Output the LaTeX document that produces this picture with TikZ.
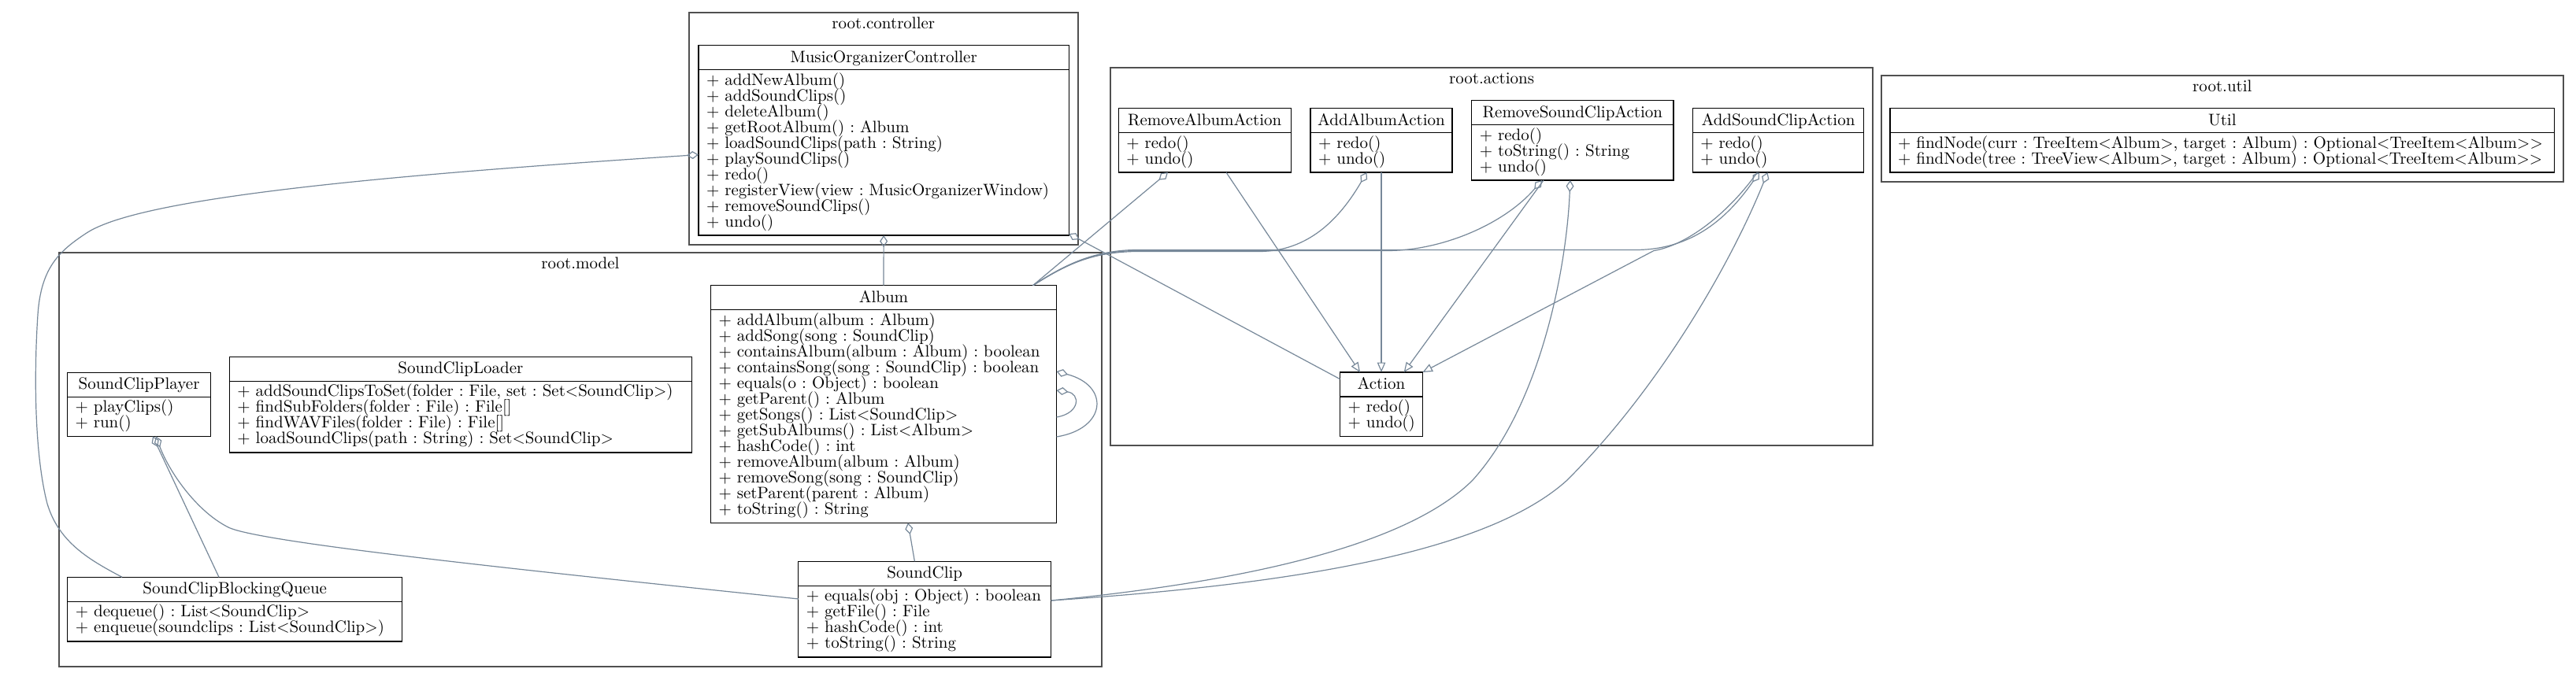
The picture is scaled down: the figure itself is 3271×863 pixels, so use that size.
\documentclass[tikz,border=0pt]{standalone}
\usetikzlibrary{arrows.meta}
\definecolor{edgec}{RGB}{119,136,153}
\definecolor{clusc}{RGB}{80,80,80}
\tikzset{
  txt/.style={font=\fontsize{10}{9.5}\selectfont\frenchspacing, scale=2.1, inner sep=0pt, outer sep=0pt},
  clsbox/.style={draw=black, line width=1.1pt, fill=white, inner sep=0pt, outer sep=0pt, anchor=north west},
  clusbox/.style={draw=clusc, line width=2pt, inner sep=0pt, outer sep=0pt, anchor=north west},
  conn/.style={draw=edgec, line width=1.2pt},
  aggs/.style={conn, {Diamond[open, length=15pt, width=10pt]}-},
  gen/.style={conn, -{Triangle[open, length=12.5pt, width=10.5pt]}},
}
\newcommand{\umlclass}[7]{%
  \node[clsbox, minimum width={(#4-#2)*1pt}, minimum height={(#5-#3)*1pt}] (#1) at (#2,#3) {};
  \draw[line width=1.1pt] ([yshift=-31pt]#1.north west) -- ([yshift=-31pt]#1.north east);
  \node[txt, anchor=base] (#1-title) at ([yshift=-21.5pt]#1.north) {#6};
  \foreach \m [count=\k] in {#7} {
    \node[txt, anchor=base west] (#1-m\k) at ([xshift=10pt, yshift={-(50.5+20*(\k-1))*1pt}]#1.north west) {\m};
  }
}
\newcommand{\umlcluster}[6]{%
  \node[clusbox, minimum width={(#4-#2)*1pt}, minimum height={(#5-#3)*1pt}] (#1) at (#2,#3) {};
  \node[txt, anchor=base] (#1-title) at ([yshift=-20.5pt]#1.north) {#6};
}
\begin{document}
\begin{tikzpicture}[x=1pt,y=-1pt]
\fill[white] (0,0) rectangle (3271,863);
\useasboundingbox (0,0) rectangle (3271,863);
% clusters
\umlcluster{ctrl}{875}{15.7}{1368.5}{310.5}{root.controller}
\umlcluster{model}{74.5}{321}{1399.4}{846.5}{root.model}
\umlcluster{actions}{1409.8}{85.7}{2378.3}{565.7}{root.actions}
\umlcluster{util}{2388.7}{95.7}{3255}{230.7}{root.util}
% classes
\umlclass{moc}{887}{57.7}{1357.3}{299}{MusicOrganizerController}{+ addNewAlbum(), + addSoundClips(), + deleteAlbum(), + getRootAlbum() : Album, + loadSoundClips(path : String), + playSoundClips(), + redo(), + registerView(view : MusicOrganizerWindow), + removeSoundClips(), + undo()}
\umlclass{album}{902.5}{362.7}{1341.5}{664.3}{Album}{+ addAlbum(album : Album), + addSong(song : SoundClip), + containsAlbum(album : Album) : boolean, + containsSong(song : SoundClip) : boolean, + equals(o : Object) : boolean, + getParent() : Album, + getSongs() : List<SoundClip>, + getSubAlbums() : List<Album>, + hashCode() : int, + removeAlbum(album : Album), + removeSong(song : SoundClip), + setParent(parent : Album), + toString() : String}
\umlclass{scp}{85.5}{473.3}{267.6}{554.3}{SoundClipPlayer}{+ playClips(), + run()}
\umlclass{scl}{291.4}{453.3}{878.4}{575}{SoundClipLoader}{{+ addSoundClipsToSet(folder : File, set : Set<SoundClip>)}, + findSubFolders(folder : File) : File[], + findWAVFiles(folder : File) : File[], + loadSoundClips(path : String) : Set<SoundClip>}
\umlclass{scbq}{85.8}{733.3}{510.6}{815}{SoundClipBlockingQueue}{+ dequeue() : List<SoundClip>, + enqueue(soundclips : List<SoundClip>)}
\umlclass{sc}{1013.8}{713.3}{1334.7}{835}{SoundClip}{+ equals(obj : Object) : boolean, + getFile() : File, + hashCode() : int, + toString() : String}
\umlclass{raa}{1420.3}{137.7}{1639.2}{219}{RemoveAlbumAction}{+ redo(), + undo()}
\umlclass{aaa}{1664}{137.7}{1844}{219}{AddAlbumAction}{+ redo(), + undo()}
\umlclass{rsca}{1868.8}{127.7}{2125}{229}{RemoveSoundClipAction}{+ redo(), + toString() : String, + undo()}
\umlclass{asca}{2149.3}{137.7}{2366.7}{219}{AddSoundClipAction}{+ redo(), + undo()}
\umlclass{action}{1701.6}{473}{1806.4}{554.3}{Action}{+ redo(), + undo()}
\umlclass{utilc}{2400}{137.7}{3243.6}{219}{Util}{{+ findNode(curr : TreeItem<Album>, target : Album) : Optional<TreeItem<Album>{}>}, {+ findNode(tree : TreeView<Album>, target : Album) : Optional<TreeItem<Album>{}>}}
% connector end points
\coordinate (mocW) at ([yshift=-18.2pt]moc.west);
\coordinate (mocSE) at ([yshift=2pt]moc.south east);
\coordinate (actW) at ([yshift=-8.7pt]action.north west);
\coordinate (scbqT1) at ([xshift=69.2pt]scbq.north west);
\coordinate (scbqT2) at ([xshift=192.2pt]scbq.north west);
\coordinate (albT) at ([xshift=-30pt]album.north east);
\coordinate (albB) at ([xshift=250.5pt]album.south west);
\coordinate (scT) at ([xshift=147.6pt]sc.north west);
\coordinate (scL) at ([yshift=-47.7pt]sc.north west);
\coordinate (scR) at ([yshift=-49.7pt]sc.north east);
\coordinate (scpD1) at ([xshift=108.5pt]scp.south west);
\coordinate (scpD2) at ([xshift=112.5pt]scp.south west);
\coordinate (raaD) at ([xshift=62.7pt]raa.south west);
\coordinate (raaG) at ([xshift=136.7pt]raa.south west);
\coordinate (aaaD) at ([xshift=71.5pt]aaa.south west);
\coordinate (rscaD1) at ([xshift=89.2pt]rsca.south west);
\coordinate (rscaG) at ([xshift=91.2pt]rsca.south west);
\coordinate (rscaD2) at ([xshift=125pt]rsca.south west);
\coordinate (ascaD1) at ([xshift=84.7pt]asca.south west);
\coordinate (ascaG) at ([xshift=82.2pt]asca.south west);
\coordinate (ascaD2) at ([xshift=95.2pt]asca.south west);
\coordinate (actRAA) at ([xshift=25.4pt]action.north west);
\coordinate (actRSCA) at ([xshift=81.1pt]action.north west);
\coordinate (albR1) at ([yshift=-109.3pt]album.north east);
\coordinate (albR2) at ([yshift=-192.3pt]album.north east);
\coordinate (albR3) at ([yshift=-133.3pt]album.north east);
\coordinate (albR4) at ([yshift=-167.3pt]album.north east);
% connectors
\draw[aggs] (mocW) .. controls (500,222) and (180,250) .. (110,296) .. controls (75,319) and (52,340) .. (48,400) .. controls (44,460) and (42,570) .. (60,640) .. controls (75,690) and (115,712) .. (scbqT1);
\draw[aggs] (moc.south) -- (album.north);
\draw[aggs] (mocSE) -- (actW);
\draw[aggs] (raaD) -- (albT);
\draw[gen] (raaG) -- (actRAA);
\draw[aggs] (aaaD) .. controls (1700,280) and (1660,319) .. (1600,319.5) -- (1440,319.5) .. controls (1385,321) and (1354,336) .. (albT);
\draw[gen] (aaa.south) -- (action.north);
\draw[aggs] (rscaD1) .. controls (1910,285) and (1830,319) .. (1760,318.5) -- (1440,318.5) .. controls (1385,320) and (1352,337) .. (albT);
\draw[gen] (rscaG) -- (actRSCA);
\draw[aggs] (rscaD2) .. controls (1990,330) and (1960,510) .. (1870,610) .. controls (1780,700) and (1550,742) .. (scR);
\draw[aggs] (ascaD1) .. controls (2195,275) and (2150,318) .. (2075,317.5) -- (1440,317.5) .. controls (1385,319) and (1350,338) .. (albT);
\draw[gen] (ascaG) .. controls (2192,274) and (2140,312) .. (2100,318.5) -- (action.north east);
\draw[aggs] (ascaD2) .. controls (2200,330) and (2110,490) .. (1990,610) .. controls (1880,710) and (1600,745) .. (scR);
\draw[aggs] (albR1) .. controls (1410,490) and (1405,545) .. (albR2);
\draw[aggs] (albR3) .. controls (1372,500) and (1372,525) .. (albR4);
\draw[aggs] (albB) -- (scT);
\draw[aggs] (scpD1) -- (scbqT2);
\draw[aggs] (scpD2) .. controls (215,600) and (250,650) .. (290,670) .. controls (330,690) and (700,728) .. (scL);
\end{tikzpicture}
\end{document}
